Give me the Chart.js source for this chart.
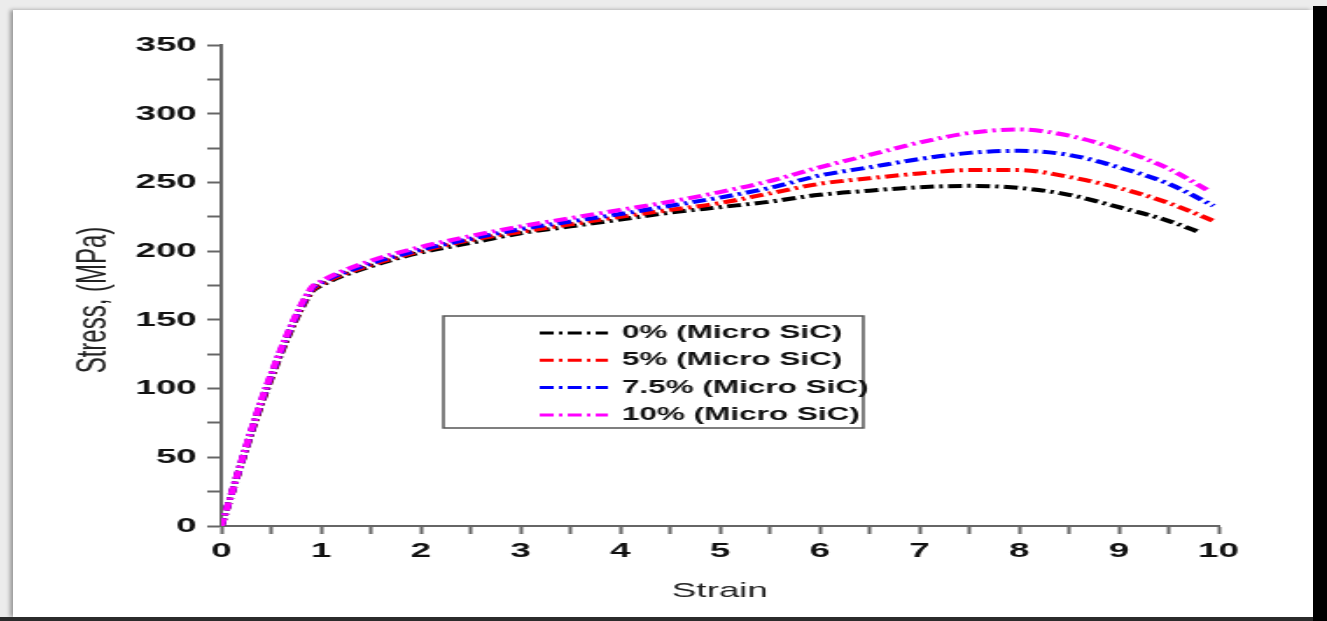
<!DOCTYPE html>
<html>
<head>
<meta charset="utf-8">
<title>Stress - Strain (Micro SiC)</title>
<script src="https://cdn.jsdelivr.net/npm/chart.js@4.4.1/dist/chart.umd.min.js"></script>
<style>
  html, body { margin: 0; padding: 0; }
  body { width: 1327px; height: 621px; position: relative; overflow: hidden; background: #ececec; }
  .card { position: absolute; left: 13px; top: 10px; width: 1300px; height: 607px; background: #fff;
          box-shadow: -3px 0 4px rgba(0,0,0,0.35); }
  .card canvas { position: absolute; left: 0; top: 0; }
  .edge-right { position: absolute; left: 1313px; top: 6px; width: 14px; height: 615px; background: #000; }
  .edge-bottom { position: absolute; left: 0; top: 617px; width: 1313px; height: 4px; background: #2b2b2b; }
</style>
</head>
<body>
<div class="card">
  <!-- the original figure is stretched horizontally, so the canvas is drawn narrow and scaled by CSS -->
  <canvas id="chart" width="743" height="607" style="width:1300px;height:607px"></canvas>
</div>
<div class="edge-right"></div>
<div class="edge-bottom"></div>

<script>
// Values
const seriesLabels = ['0% (Micro SiC)', '5% (Micro SiC)', '7.5% (Micro SiC)', '10% (Micro SiC)'];
const seriesColors = ['#000000', '#ff0000', '#0000ff', '#ff00ff'];

const strain0  = [0, 0.45, 0.9, 1, 1.5, 2, 2.5, 3, 3.5, 4, 4.5, 5, 5.5, 6, 6.5, 7, 7.5, 8, 8.5, 9, 9.5, 9.8];
const stress0  = [0, 98, 170, 175, 189, 199, 206, 213, 218, 223, 228, 232, 236, 241, 244, 246.5, 247.5, 246, 241, 232, 222, 214];

const strain5  = [0, 0.45, 0.9, 1, 1.5, 2, 2.5, 3, 3.5, 4, 4.5, 5, 5.5, 6, 6.5, 7, 7.5, 8, 8.5, 9, 9.5, 9.95];
const stress5  = [0, 99, 171, 176, 190, 200, 208, 214, 219.5, 225, 230, 235, 242, 249, 253, 256.5, 259, 259, 254, 246, 235, 222];

const strain75 = [0, 0.45, 0.9, 1, 1.5, 2, 2.5, 3, 3.5, 4, 4.5, 5, 5.5, 6, 6.5, 7, 7.5, 8, 8.5, 9, 9.5, 9.95];
const stress75 = [0, 100, 172, 177, 191, 201, 209, 216, 221.5, 227, 233, 239, 246, 255, 261, 267, 271.5, 273, 270, 261, 249, 233];

const strain10 = [0, 0.45, 0.9, 1, 1.5, 2, 2.5, 3, 3.5, 4, 4.5, 5, 5.5, 6, 6.5, 7, 7.5, 8, 8.5, 9, 9.5, 9.9];
const stress10 = [0, 101, 173, 178, 193, 203, 211, 218, 224, 230, 236, 243, 251, 261, 270, 279, 286, 288.5, 284, 274, 260, 244];

const xTicks = { min: 0, max: 10, step: 0.5 };
const yTicks = { min: 0, max: 350, step: 25 };

const strainSets = [strain0, strain5, strain75, strain10];
const stressSets = [stress0, stress5, stress75, stress10];

const FONT = 'Liberation Sans, Arial, Helvetica, sans-serif';
const DASH = [8, 3, 2, 3];

function toPoints(xs, ys) {
  return xs.map((x, i) => ({ x: x, y: ys[i] }));
}

const datasets = seriesLabels.map((label, i) => ({
  label: label,
  data: toPoints(strainSets[i], stressSets[i]),
  borderColor: seriesColors[i],
  backgroundColor: seriesColors[i],
  borderWidth: 4,
  borderDash: DASH,
  pointRadius: 0,
  fill: false,
  order: seriesLabels.length - i, // later series drawn on top, as in the figure
  cubicInterpolationMode: 'monotone'
}));

// Boxed legend sitting inside the plot, like the original
const boxLegend = {
  id: 'boxLegend',
  afterDraw(chart, args, opts) {
    const ctx = chart.ctx;
    ctx.save();
    ctx.strokeStyle = '#555';
    ctx.lineWidth = 1.5;
    ctx.strokeRect(opts.left, opts.top, opts.right - opts.left, opts.bottom - opts.top);
    ctx.font = 'bold 18px ' + FONT;
    ctx.textBaseline = 'middle';
    ctx.textAlign = 'left';
    chart.data.datasets.forEach((ds, i) => {
      const y = opts.firstRow + i * opts.rowStep;
      ctx.strokeStyle = ds.borderColor;
      ctx.lineWidth = 3;
      ctx.setLineDash(ds.borderDash);
      ctx.beginPath();
      ctx.moveTo(opts.lineStart, y);
      ctx.lineTo(opts.lineEnd, y);
      ctx.stroke();
      ctx.setLineDash([]);
      ctx.fillStyle = '#111';
      ctx.fillText(ds.label, opts.textStart, y);
    });
    ctx.restore();
  }
};

// Y axis title, a little below the centre as in the figure
const yTitle = {
  id: 'yTitle',
  afterDraw(chart, args, opts) {
    const ctx = chart.ctx;
    ctx.save();
    ctx.translate(opts.x, opts.y);
    ctx.rotate(-Math.PI / 2);
    ctx.font = '24px ' + FONT;
    ctx.fillStyle = '#222';
    ctx.textAlign = 'center';
    ctx.textBaseline = 'middle';
    ctx.fillText(opts.text, 0, 0);
    ctx.restore();
  }
};

const ctx = document.getElementById('chart').getContext('2d');
new Chart(ctx, {
  type: 'line',
  data: { datasets: datasets },
  plugins: [boxLegend, yTitle],
  options: {
    responsive: false,
    animation: false,
    devicePixelRatio: 1,
    layout: { padding: { left: 0, right: 54, top: 35, bottom: 0 } },
    plugins: {
      legend: { display: false },
      tooltip: { enabled: false },
      boxLegend: { left: 246, right: 486, top: 306, bottom: 418, firstRow: 323, rowStep: 27.3,
                   lineStart: 301, lineEnd: 340, textStart: 348 },
      yTitle: { text: 'Stress, (MPa)', x: 46, y: 290 }
    },
    scales: {
      x: {
        type: 'linear',
        min: xTicks.min,
        max: xTicks.max,
        afterFit(scale) { scale.height = 91; },
        border: { display: true, color: '#666', width: 2 },
        grid: { drawOnChartArea: false, drawTicks: true, tickLength: 8, tickColor: '#666', tickWidth: 2 },
        ticks: {
          stepSize: xTicks.step,
          autoSkip: false,
          maxRotation: 0,
          padding: 5,
          color: '#111',
          font: { family: FONT, size: 21, weight: 'bold' },
          callback: v => (Number.isInteger(v) ? v : '')
        },
        title: {
          display: true,
          text: 'Strain',
          color: '#222',
          font: { family: FONT, size: 21 },
          padding: { top: 0, bottom: 13 }
        }
      },
      y: {
        type: 'linear',
        min: yTicks.min,
        max: yTicks.max,
        afterFit(scale) { scale.width = 119; },
        border: { display: true, color: '#666', width: 2 },
        grid: { drawOnChartArea: false, drawTicks: true, tickLength: 8, tickColor: '#666', tickWidth: 2 },
        ticks: {
          stepSize: yTicks.step,
          autoSkip: false,
          padding: 6,
          color: '#111',
          font: { family: FONT, size: 21, weight: 'bold' },
          callback: v => (v % 50 === 0 ? v : '')
        }
      }
    }
  }
});
</script>
</body>
</html>
